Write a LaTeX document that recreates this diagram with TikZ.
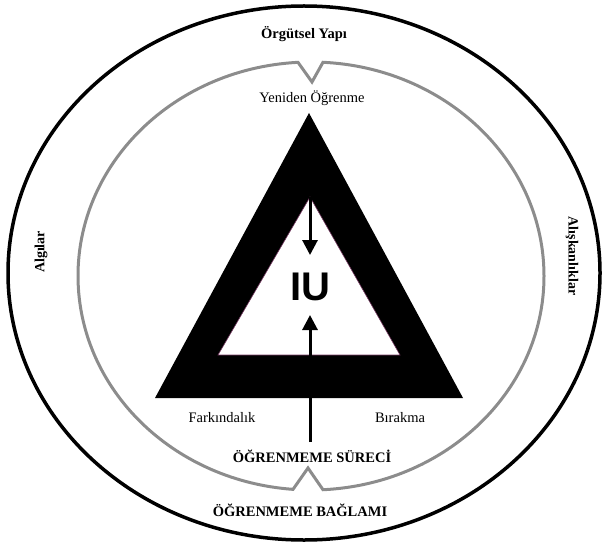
\documentclass[tikz,border=0pt]{standalone}
\usepackage{fontspec}
\setmainfont{Liberation Serif}
\newfontfamily\iufont{Liberation Sans}
\usetikzlibrary{arrows.meta,calc}
\definecolor{ringgray}{RGB}{140,140,140}
\definecolor{edgepurple}{RGB}{120,60,100}
\begin{document}
\begin{tikzpicture}[x=1pt,y=1pt,
  lbl/.style={font=\fontsize{14.5}{16}\selectfont, inner sep=0pt},
  blbl/.style={font=\fontsize{14.5}{16}\selectfont\bfseries, inner sep=0pt},
  flow/.style={line width=3pt, -{Triangle[width=15pt,length=15pt]}}]
\useasboundingbox (0,0) rectangle (604,547);
% outer ellipse
\draw[line width=3.5pt] (304,274) ellipse [x radius=296, y radius=267];
% inner gray ellipse with notches
\coordinate (gc) at (311,271);
\coordinate (toptip) at (312,465);
\coordinate (bottip) at (308,79);
\draw[line width=3pt, draw=ringgray, line join=miter]
  ($(gc)+(93.2:233 and 214)$) arc[start angle=93.2, end angle=265.57, x radius=233, y radius=214]
  -- (bottip) -- ($(gc)+(272.95:233 and 214)$)
  arc[start angle=272.95, end angle=447.05, x radius=233, y radius=214]
  -- (toptip) -- cycle;
% triangle
\fill[black,even odd rule] (309,434) -- (155,149) -- (463,149) -- cycle
  (310,350) -- (218,192) -- (400,192) -- cycle;
\draw[line width=0.6pt, draw=edgepurple] (310,350) -- (218,192) -- (400,192) -- cycle;
% arrows
\coordinate (dtop) at (310,350);
\coordinate (dtip) at (310,292);
\coordinate (ubot) at (310,105);
\coordinate (utip) at (310,232);
\draw[flow] (dtop) -- (dtip);
\draw[flow] (ubot) -- (utip);
% texts
\node[font=\iufont\fontsize{40}{40}\selectfont\bfseries, inner sep=0pt] (iu) at (310,260) {IU};
\node[blbl] (orgut) at (304,513) {Örgütsel Yapı};
\node[lbl] (yeniden) at (312,449) {Yeniden Öğrenme};
\node[lbl] (fark) at (222,129) {Farkındalık};
\node[lbl] (birak) at (400,129) {Bırakma};
\node[blbl] (surec) at (312,91) {ÖĞRENMEME SÜRECİ};
\node[blbl] (baglam) at (300,37) {ÖĞRENMEME BAĞLAMI};
\node[blbl, rotate=90, font=\fontsize{14}{16}\selectfont\bfseries] (algi) at (41,295) {Algılar};
\node[blbl, rotate=-90, font=\fontsize{14}{16}\selectfont\bfseries] (alis) at (572,291) {Alışkanlıklar};
\end{tikzpicture}
\end{document}
